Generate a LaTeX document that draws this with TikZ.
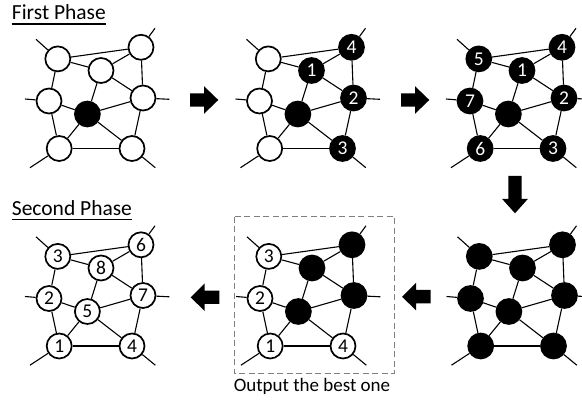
\documentclass[tikz,border=0pt]{standalone}
\usepackage{fontspec}
\setmainfont{Carlito}
\tikzset{
  edge/.style={line width=1.1pt},
  wn/.style={circle, draw, line width=1.7pt, fill=white, minimum size=25pt, inner sep=0pt, font=\fontsize{19.5}{19.5}\selectfont},
  bn/.style={wn, fill=black, text=white},
  txt/.style={execute at begin node={#1}},
  blockarrow/.style={fill=black},
  dashbox/.style={draw={rgb,255:red,128;green,128;blue,128}, line width=1.3pt, dash pattern=on 6pt off 3.5pt},
}
\newcommand\gpanel[9]{%
  \node[#2] (#1A) at (57.8,58.9) {};
  \node[#3] (#1B) at (141,47.3) {};
  \node[#4] (#1C) at (101,70.5) {};
  \node[#5] (#1D) at (49,101) {};
  \node[#6] (#1E) at (87.4,114) {};
  \node[#7] (#1F) at (143,98) {};
  \node[#8] (#1G) at (59.2,148.5) {};
  \node[#9] (#1H) at (132,148.5) {};
  \coordinate (#1sA) at (36,39.3);
  \coordinate (#1sB) at (155,28.3);
  \coordinate (#1sD) at (25,99);
  \coordinate (#1sF) at (169.3,99.3);
  \coordinate (#1sG) at (30,167.7);
  \coordinate (#1sH) at (155.3,167.7);
  \foreach \a/\b in {A/B,A/C,A/D,B/C,B/F,C/E,C/F,D/E,D/G,E/F,E/G,E/H,F/H,G/H,A/sA,B/sB,D/sD,F/sF,G/sG,H/sH}
    \draw[edge] (#1\a) -- (#1\b);
}
\begin{document}
\begin{tikzpicture}[x=1pt,y=-1pt]
\useasboundingbox (0,0) rectangle (582,403);
% titles
\node[anchor=base west, inner sep=0pt, font=\fontsize{21.5}{21.5}\selectfont] (t1) at (11.7,20) {First Phase};
\draw[line width=1.2pt] ([yshift=-4pt]t1.base west) -- ([yshift=-4pt]t1.base east);
\node[anchor=base west, inner sep=0pt, font=\fontsize{21.5}{21.5}\selectfont] (t2) at (11.7,215.5) {Second Phase};
\draw[line width=1.2pt] ([yshift=-4pt]t2.base west) -- ([yshift=-4pt]t2.base east);
\node[anchor=base, inner sep=0pt, font=\fontsize{19}{19}\selectfont] (t3) at (312,391.5) {Output the best one};
% dashed box
\draw[dashbox] (234.3,216.7) rectangle (394.3,373.3);
% panels
\begin{scope}
\gpanel{a}{wn}{wn}{wn}{wn}{bn}{wn}{wn}{wn}
\end{scope}
\begin{scope}[shift={(210.5,0)}]
\gpanel{b}{wn}{bn,txt=4}{bn,txt=1}{wn}{bn}{bn,txt=2}{wn}{bn,txt=3}
\end{scope}
\begin{scope}[shift={(421,0)}]
\gpanel{c}{bn,txt=5}{bn,txt=4}{bn,txt=1}{bn,txt=7}{bn}{bn,txt=2}{bn,txt=6}{bn,txt=3}
\end{scope}
\begin{scope}[shift={(421.5,197.5)}]
\gpanel{d}{bn}{bn}{bn}{bn}{bn}{bn}{bn}{bn}
\end{scope}
\begin{scope}[shift={(211,197.5)}]
\gpanel{e}{wn,txt=3}{bn}{bn}{wn,txt=2}{bn}{bn}{wn,txt=1}{wn,txt=4}
\end{scope}
\begin{scope}[shift={(0,197.5)}]
\gpanel{f}{wn,txt=3}{wn,txt=6}{wn,txt=8}{wn,txt=2}{wn,txt=5}{wn,txt=7}{wn,txt=1}{wn,txt=4}
\end{scope}
% block arrows
\begin{scope}[shift={(190,100)}]
\fill[blockarrow] (0,-6.7) -- (14,-6.7) -- (14,-13.8) -- (28.3,0) -- (14,13.8) -- (14,6.7) -- (0,6.7) -- cycle;
\end{scope}
\begin{scope}[shift={(401,100)}]
\fill[blockarrow] (0,-6.7) -- (14,-6.7) -- (14,-13.8) -- (28.3,0) -- (14,13.8) -- (14,6.7) -- (0,6.7) -- cycle;
\end{scope}
\begin{scope}[shift={(515,176)}]
\fill[blockarrow] (-6.7,0) -- (-6.7,23) -- (-12.8,23) -- (0,37.3) -- (12.8,23) -- (6.7,23) -- (6.7,0) -- cycle;
\end{scope}
\begin{scope}[shift={(219.3,297.3)}]
\fill[blockarrow] (0,-6.7) -- (-14.6,-6.7) -- (-14.6,-13.8) -- (-28.6,0) -- (-14.6,13.8) -- (-14.6,6.7) -- (0,6.7) -- cycle;
\end{scope}
\begin{scope}[shift={(430.7,296.7)}]
\fill[blockarrow] (0,-6.7) -- (-14.6,-6.7) -- (-14.6,-13.8) -- (-28.6,0) -- (-14.6,13.8) -- (-14.6,6.7) -- (0,6.7) -- cycle;
\end{scope}
\end{tikzpicture}
\end{document}
